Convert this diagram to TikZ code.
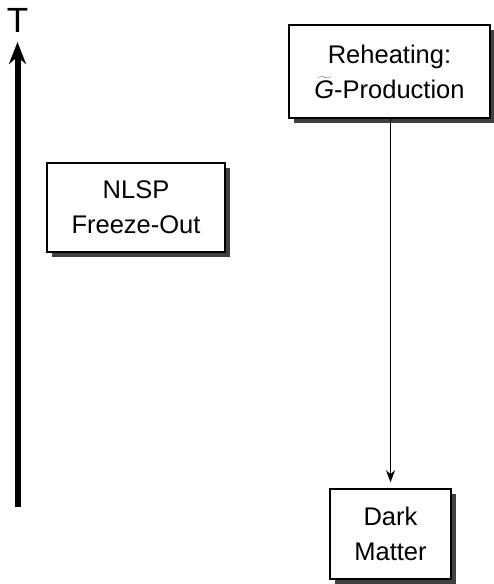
\documentclass[tikz,border=0pt]{standalone}
\usepackage{fontspec}
\setmainfont{Liberation Sans}
\usetikzlibrary{arrows.meta,shadows}
\definecolor{Shade}{RGB}{64,64,64}

\begin{document}
\begin{tikzpicture}[x=1pt,y=-1pt,
 b/.style={draw=black,line width=1.5pt,fill=white,inner sep=0pt,align=center,font=\fontsize{25.5}{35}\selectfont,
  drop shadow={fill=Shade,opacity=1,shadow xshift=5pt,shadow yshift=-5pt}},
 a/.style={-{Stealth[length=12pt,width=9pt]},line width=1.5pt},
 ta/.style={-{Stealth[length=22pt,width=17pt]},line width=6pt}]
\useasboundingbox (0,0) rectangle (494,584);
\node[font=\fontsize{35}{40}\selectfont,inner sep=0pt] (T) at (17.5,20.5) {T};
\coordinate (tb) at (17.5,507);
\coordinate (tt) at (17.5,42);
\node[b,minimum width=201pt,minimum height=93pt] (reh) at (389.5,71.5) {Reheating:\\$\widetilde{\mbox{\itshape G}}$-Production};
\node[b,minimum width=178pt,minimum height=89pt] (nlsp) at (136,207.5) {NLSP\\Freeze-Out};
\node[b,minimum width=121pt,minimum height=90pt] (dm) at (390.5,534) {Dark\\Matter};
\draw[ta] (tb)--(tt);
\draw[a,shorten >=6pt] (dm.north |- reh.south)--(dm.north);
\end{tikzpicture}
\end{document}
